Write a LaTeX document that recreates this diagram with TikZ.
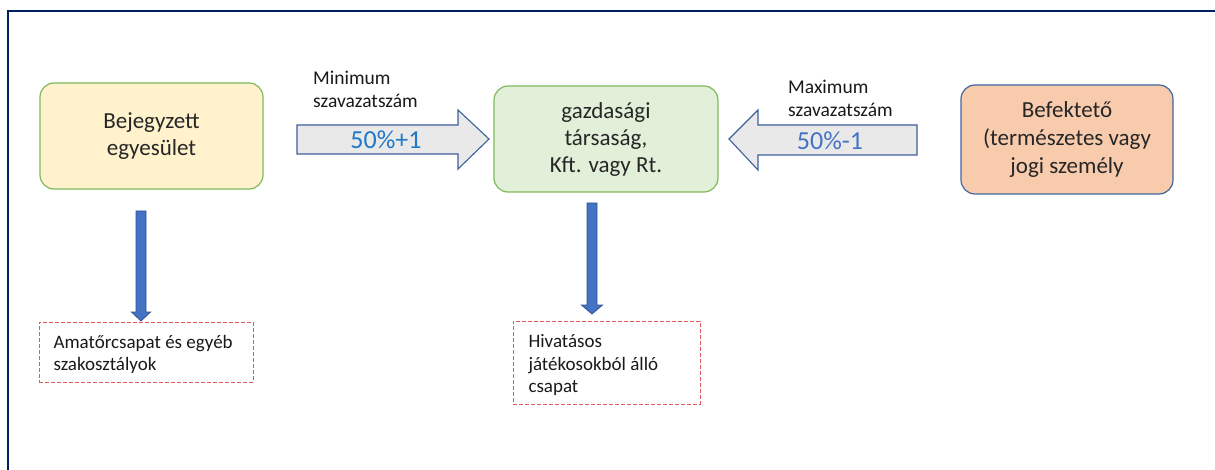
\documentclass[tikz,border=0pt]{standalone}
\usepackage{fontspec}
\setmainfont{Carlito}
\definecolor{navy}{HTML}{002060}
\definecolor{yfill}{HTML}{FFF2CC}
\definecolor{gfill}{HTML}{E2F0D9}
\definecolor{gline}{HTML}{7FBA5A}
\definecolor{ofill}{HTML}{F8CBAD}
\definecolor{bline}{HTML}{41679F}
\definecolor{afill}{HTML}{E9E9E9}
\definecolor{aline}{HTML}{3D5F9C}
\definecolor{dfill}{HTML}{4472C4}
\definecolor{dline}{HTML}{2F528F}
\definecolor{redd}{HTML}{E05A5A}
\definecolor{pct1}{HTML}{1F78C8}
\definecolor{pct2}{HTML}{4472C4}
\tikzset{
  mainbox/.style={rounded corners=14pt, line width=1.2pt, align=center, inner sep=0pt,
     font=\fontsize{23}{27}\selectfont, text=black!85},
  dbox/.style={draw=redd, dashed, dash pattern=on 4pt off 2pt, line width=0.9pt, anchor=north west,
     inner sep=0pt},
  blockarrow/.style={fill=afill, draw=aline, line width=1.1pt, line join=miter},
  downarrow/.style={fill=dfill, draw=dline, line width=0.8pt},
  lbl/.style={font=\fontsize{19.5}{23.3}\selectfont, anchor=base west, inner sep=0pt, text=black!90},
  dtxt/.style={font=\fontsize{19}{22.6}\selectfont, anchor=base west, inner sep=0pt, text=black!90},
  pct/.style={font=\fontsize{26}{28}\selectfont, inner sep=0pt}
}
\begin{document}
\begin{tikzpicture}[x=1pt,y=-1pt]
\useasboundingbox (0,0) rectangle (1215,470);
\draw[navy, line width=2pt] (8,480) -- (8,11) -- (1225,11);
% main boxes
\node[mainbox, draw=gline, fill=yfill, minimum width=223pt, minimum height=106pt] (b1) at (151.5,136) {Bejegyzett\\egyesület};
\node[mainbox, draw=gline, fill=gfill, minimum width=224pt, minimum height=106pt] (b2) at (606,139) {gazdasági\\társaság,\\Kft. vagy Rt.};
\node[mainbox, draw=bline, fill=ofill, minimum width=212pt, minimum height=109pt, font=\fontsize{23}{28}\selectfont] (b3) at (1067,139.5) {Befektető\\(természetes vagy\\jogi személy};
% block arrows
\draw[blockarrow] (297,125) -- (458,125) -- (458,110) -- (489,139) -- (458,169) -- (458,154) -- (297,154) -- cycle;
\draw[blockarrow] (917,125) -- (758,125) -- (758,110) -- (729,139) -- (758,170) -- (758,155) -- (917,155) -- cycle;
\node[pct, text=pct1] (p1) at (386,140) {50\%+1};
\node[pct, text=pct2] (p2) at (830,141) {50\%-1};
\node[lbl] (l1) at (313,84.3) {\vtop{\hbox{Minimum}\hbox{szavazatszám}}};
\node[lbl] (l2) at (788,93.3) {\vtop{\hbox{Maximum}\hbox{szavazatszám}}};
% dashed boxes
\node[dbox, minimum width=214pt, minimum height=60pt] (d1) at (39,322) {};
\node[dtxt] (t1) at (53.3,348.3) {\vtop{\hbox{Amatőrcsapat és egyéb}\hbox{szakosztályok}}};
\node[dbox, minimum width=187pt, minimum height=83pt] (d2) at (513,321) {};
\node[dtxt] (t2) at (528.3,347.7) {\vtop{\hbox{Hivatásos}\hbox{játékosokból álló}\hbox{csapat}}};
% down arrows
\draw[downarrow] (136,211) -- (146,211) -- (146,312) -- (150.5,312) -- (141,321) -- (131.5,312) -- (136,312) -- cycle;
\draw[downarrow] (587,203) -- (597,203) -- (597,305) -- (602.5,305) -- (592,314) -- (581.5,305) -- (587,305) -- cycle;
\end{tikzpicture}
\end{document}
